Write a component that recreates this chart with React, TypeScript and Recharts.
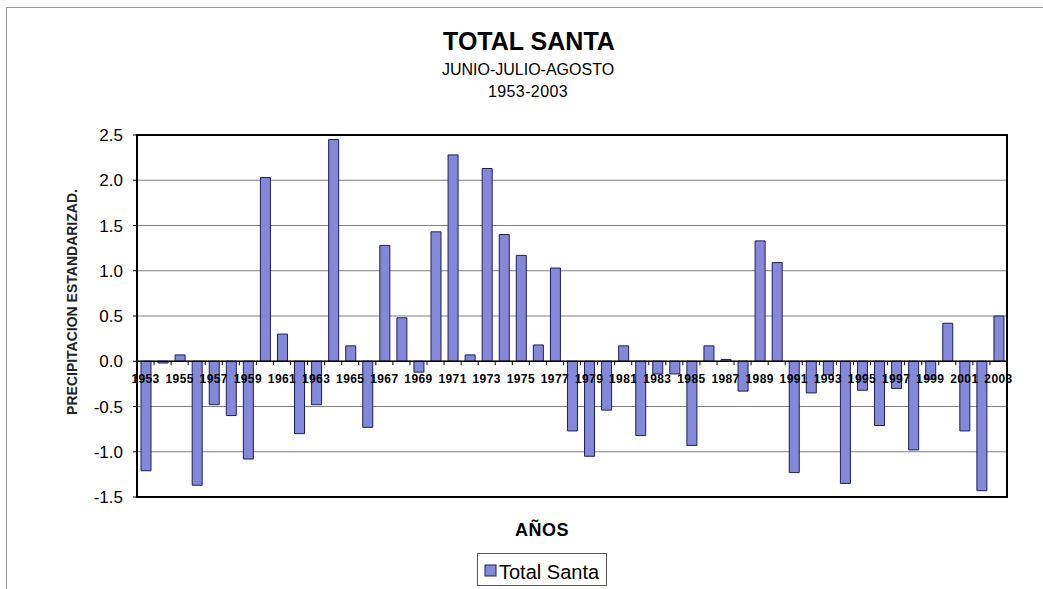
import { BarChart, Bar, XAxis, YAxis, CartesianGrid, ReferenceLine, Legend } from 'recharts';

const YEARS = [
  1953, 1954, 1955, 1956, 1957, 1958, 1959, 1960, 1961, 1962,
  1963, 1964, 1965, 1966, 1967, 1968, 1969, 1970, 1971, 1972,
  1973, 1974, 1975, 1976, 1977, 1978, 1979, 1980, 1981, 1982,
  1983, 1984, 1985, 1986, 1987, 1988, 1989, 1990, 1991, 1992,
  1993, 1994, 1995, 1996, 1997, 1998, 1999, 2000, 2001, 2002,
  2003,
];

const TOTAL_SANTA = [
  -1.21, -0.02, 0.07, -1.37, -0.48, -0.6, -1.08, 2.03, 0.3, -0.8,
  -0.48, 2.45, 0.17, -0.73, 1.28, 0.48, -0.12, 1.43, 2.28, 0.07,
  2.13, 1.4, 1.17, 0.18, 1.03, -0.77, -1.05, -0.54, 0.17, -0.82,
  -0.14, -0.14, -0.93, 0.17, 0.02, -0.33, 1.33, 1.09, -1.23, -0.35,
  -0.15, -1.35, -0.32, -0.71, -0.3, -0.98, -0.2, 0.42, -0.77, -1.43,
  0.5,
];

const Y_TICKS = [-1.5, -1.0, -0.5, 0.0, 0.5, 1.0, 1.5, 2.0, 2.5];

const data = YEARS.map((year, i) => ({ year, value: TOTAL_SANTA[i] }));

const FONT = 'Arial, "Liberation Sans", sans-serif';
const BAR_FILL = '#8388d8';
const BAR_STROKE = '#1c1f5c';

// plot box (Excel-style frame)
const PLOT_LEFT = 137;
const PLOT_TOP = 135;
const PLOT_W = 870;
const PLOT_H = 362;
const ZERO_Y = PLOT_TOP + PLOT_H * (2.5 / 4);
const BAND = PLOT_W / YEARS.length;

// year labels sit on the zero line, every other year
const YearTick = ({ x, index, payload }: any) => (
  <g>
    <line x1={x - BAND / 2} x2={x - BAND / 2} y1={ZERO_Y} y2={ZERO_Y + 4} stroke="#000" />
    {index % 2 === 0 && (
      <text x={x} y={ZERO_Y + 22} textAnchor="middle" fontSize={12} fontWeight="bold" letterSpacing={0.4} fill="#000" fontFamily={FONT}>
        {payload.value}
      </text>
    )}
  </g>
);

const LegendBox = () => (
  <div style={{ width: 130, height: 33, border: '1px solid #555', boxSizing: 'border-box', position: 'relative', background: '#fff' }}>
    <svg width={130} height={33} style={{ position: 'absolute', left: 0, top: 0 }}>
      <rect x={7} y={11} width={11} height={11} fill={BAR_FILL} stroke={BAR_STROKE} />
      <text x={21} y={25} fontSize={20} fill="#000" fontFamily={FONT}>Total Santa</text>
    </svg>
  </div>
);

export default function App() {
  return (
    <div style={{ position: 'absolute', left: 0, top: 0, width: 1043, height: 589, background: '#fff', fontFamily: FONT }}>
      <div style={{ position: 'absolute', left: 6, top: 7, width: 1037, height: 582, borderLeft: '1px solid #999', borderTop: '1px solid #999' }} />
      <BarChart width={1043} height={589} data={data} margin={{ top: PLOT_TOP, right: 1043 - PLOT_LEFT - PLOT_W, bottom: 72, left: 0 }}>
        <CartesianGrid vertical={false} stroke="#808080" />
        <XAxis dataKey="year" interval={0} height={20} axisLine={false} tickLine={false} tick={<YearTick />} />
        <YAxis
          width={PLOT_LEFT}
          domain={[-1.5, 2.5]}
          ticks={Y_TICKS}
          tickFormatter={(v: number) => v.toFixed(1)}
          axisLine={{ stroke: '#000', strokeWidth: 2 }}
          tickLine={{ stroke: '#000' }}
          tickSize={4}
          tickMargin={10}
          tick={{ fill: '#000', fontSize: 17, fontFamily: FONT }}
        />
        <ReferenceLine y={0} stroke="#000" strokeWidth={1.5} />
        <Bar dataKey="value" name="Total Santa" fill={BAR_FILL} stroke={BAR_STROKE} strokeWidth={1} barSize={10} isAnimationActive={false} />
        <Legend
          layout="horizontal"
          verticalAlign="middle"
          align="center"
          content={<LegendBox />}
          wrapperStyle={{ left: 477, top: 553, width: 132, height: 35 }}
        />
      </BarChart>
      <svg width={1043} height={589} style={{ position: 'absolute', left: 0, top: 0, pointerEvents: 'none' }} fontFamily={FONT}>
        <rect x={PLOT_LEFT} y={PLOT_TOP} width={PLOT_W} height={PLOT_H} fill="none" stroke="#000" strokeWidth={2} />
        <text x={529} y={50} textAnchor="middle" fontSize={25} fontWeight="bold" fill="#000">TOTAL SANTA</text>
        <text x={528} y={75} textAnchor="middle" fontSize={16} fill="#000">JUNIO-JULIO-AGOSTO</text>
        <text x={528} y={97} textAnchor="middle" fontSize={16} letterSpacing={0.4} fill="#000">1953-2003</text>
        <text transform="translate(77,302) rotate(-90)" textAnchor="middle" fontSize={14} fontWeight="bold" fill="#222">
          PRECIPITACION ESTANDARIZAD.
        </text>
        <text x={542} y={536} textAnchor="middle" fontSize={18} fontWeight="bold" letterSpacing={0.5} fill="#000">AÑOS</text>
      </svg>
    </div>
  );
}
